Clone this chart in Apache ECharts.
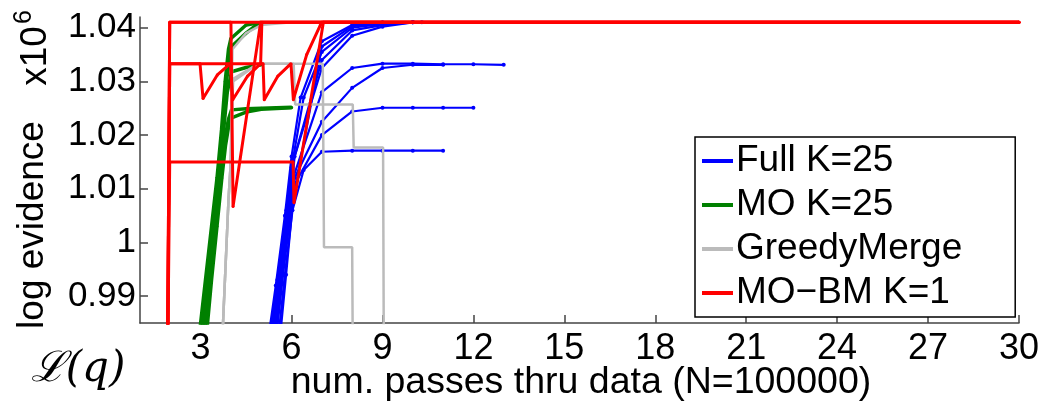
<!DOCTYPE html>
<html>
<head>
<meta charset="utf-8">
<script src="https://cdn.jsdelivr.net/npm/echarts@6/dist/echarts.min.js"></script>
<style>
html,body{margin:0;padding:0;background:#fff;}
#c{width:1042px;height:403px;}
</style>
</head>
<body>
<div id="c"></div>
<script>
// ---- data (values in units of 1e6) ----
const xTicks = [3, 6, 9, 12, 15, 18, 21, 24, 27, 30];
const yTicks = [0.99, 1, 1.01, 1.02, 1.03, 1.04];
const legendNames = ['Full K=25', 'MO K=25', 'GreedyMerge', 'MO\u2212BM K=1'];

const fullRuns = [
  [[5.18,0.98],[5.48,0.992],[5.78,1.005],[6.0,1.016],[6.3,1.027],[7.0,1.0375],[8.0,1.0405],[9.0,1.041],[10.0,1.041]],
  [[5.24,0.98],[5.53,0.993],[5.83,1.006],[6.0,1.014],[6.4,1.027],[7.0,1.0355],[8.0,1.0400],[9.0,1.0407],[10.0,1.041]],
  [[5.30,0.98],[5.6,0.993],[5.9,1.007],[6.05,1.015],[7.0,1.034],[8.0,1.0395],[9.0,1.0405],[10.0,1.041]],
  [[5.40,0.98],[5.68,0.994],[5.97,1.008],[6.1,1.016],[7.0,1.0325],[8.0,1.0385],[9.0,1.0402],[10.0,1.041]],
  [[5.27,0.98],[5.58,0.994],[5.88,1.006],[6.05,1.012],[7.0,1.028],[8.0,1.0325],[9.0,1.0333],[10.0,1.0333],[11.0,1.0332],[12.0,1.0332],[13.0,1.0331]],
  [[5.35,0.98],[5.64,0.994],[5.93,1.006],[6.1,1.012],[7.0,1.0225],[8.0,1.0288],[9.0,1.0325],[10.0,1.0331],[11.0,1.0331]],
  [[5.45,0.98],[5.72,0.994],[6.0,1.007],[6.12,1.011],[7.0,1.020],[8.0,1.0244],[9.0,1.0251],[10.0,1.0251],[11.0,1.0251],[12.0,1.0251]],
  [[5.52,0.98],[5.78,0.994],[6.03,1.006],[6.4,1.0135],[7.0,1.0169],[8.0,1.0171],[9.0,1.0171],[10.0,1.0171],[11.0,1.0171]],
  [[5.58,0.98],[5.82,0.994],[6.05,1.008],[7.0,1.0365],[8.0,1.0403],[9.0,1.0408],[10.3,1.041]]
];

const moRuns = [
  [[2.94,0.982],[3.16,0.993],[3.36,1.003],[3.54,1.012],[3.69,1.021],[3.81,1.030],[3.92,1.036],[4.0,1.038],[4.5,1.0405],[5.0,1.041]],
  [[3.00,0.982],[3.21,0.993],[3.41,1.003],[3.59,1.012],[3.73,1.021],[3.85,1.030],[3.95,1.034],[4.02,1.0365],[4.5,1.039],[4.95,1.041]],
  [[3.06,0.982],[3.26,0.993],[3.46,1.003],[3.63,1.012],[3.76,1.021],[3.88,1.028],[4.02,1.0318],[4.5,1.0326],[5.0,1.0331]],
  [[3.12,0.982],[3.31,0.993],[3.50,1.003],[3.66,1.012],[3.79,1.019],[3.92,1.023],[4.02,1.0247],[4.5,1.0249],[5.0,1.0250],[6.0,1.0252]],
  [[3.18,0.982],[3.36,0.993],[3.54,1.003],[3.70,1.012],[3.82,1.018],[3.95,1.0225],[4.02,1.0232],[4.5,1.0243],[5.0,1.0248],[6.0,1.0251]]
];

const greedyRuns = [
  [[3.70,0.98],[3.92,1.008],[3.99,1.0145],[4.05,1.036],[4.5,1.039],[5.0,1.0405],[6.0,1.041]],
  [[3.70,0.98],[3.92,1.008],[3.99,1.0145],[4.07,1.0305],[4.9,1.0333],[6.07,1.0333],[6.12,1.0257],[8.02,1.0257],[8.05,1.0177],[9.02,1.0177],[9.05,0.97]],
  [[3.70,0.98],[3.92,1.008],[3.99,1.0145],[4.07,1.0300],[4.9,1.0333],[7.03,1.0333],[7.07,0.9991],[8.0,0.9991],[8.03,0.97]]
];

const moBmRuns = [
  [[1.90,0.97],[1.98,1.041],[30.0,1.041]],
  [[1.90,0.97],[1.98,1.0333],[2.98,1.0333],[3.08,1.0268],[3.55,1.0312],[3.98,1.0333],[4.06,1.0266],[4.55,1.031],[4.98,1.0333],[5.02,1.041],[30.0,1.041]],
  [[1.90,0.97],[1.98,1.015],[6.05,1.015],[6.08,1.0074],[7.05,1.041],[30.0,1.041]],
  [[1.90,0.97],[1.98,1.041],[4.0,1.041],[4.07,1.0067],[4.98,1.041],[30.0,1.041]],
  [[1.90,0.97],[1.98,1.0333],[5.06,1.0333],[5.1,1.0266],[5.55,1.031],[5.98,1.0333],[6.06,1.0266],[6.5,1.035],[6.95,1.0405],[7.0,1.041],[30.0,1.041]]
];

// ---- chart ----
const FONT = '"Liberation Sans", Arial, Helvetica, sans-serif';
const chart = echarts.init(document.getElementById('c'), null, {renderer: 'canvas'});

function mk(name, runs, color, width, symSize, z) {
  return runs.map(r => ({
    type: 'line', name: name, data: r, z: z,
    lineStyle: {color: color, width: width},
    itemStyle: {color: color},
    symbol: 'circle', symbolSize: symSize, showSymbol: symSize > 0,
    clip: true, silent: true, animation: false
  }));
}

const series = [].concat(
  mk(legendNames[0], fullRuns, '#0000ff', 2.2, 4, 2),
  mk(legendNames[1], moRuns, '#008000', 3.5, 3, 3),
  mk(legendNames[2], greedyRuns, '#bbbbbb', 2.5, 0, 4),
  mk(legendNames[3], moBmRuns, '#ff0000', 3, 3, 5)
);

chart.setOption({
  animation: false,
  backgroundColor: '#fff',
  grid: {left: 140, right: 23, top: 17, bottom: 80},
  xAxis: {
    type: 'value', min: 1, max: 30,
    axisLine: {show: true, onZero: false, lineStyle: {color: '#444', width: 1.5}},
    axisTick: {show: true, inside: true, length: 8, customValues: xTicks, lineStyle: {color: '#444', width: 1.5}},
    axisLabel: {customValues: xTicks, color: '#000', fontSize: 36, fontFamily: FONT, margin: 8},
    splitLine: {show: false}
  },
  yAxis: {
    type: 'value', min: 0.985, max: 1.042,
    axisLine: {show: true, onZero: false, lineStyle: {color: '#444', width: 1.5}},
    axisTick: {show: true, inside: true, length: 8, customValues: yTicks, lineStyle: {color: '#444', width: 1.5}},
    axisLabel: {customValues: yTicks, color: '#000', fontSize: 35, fontFamily: FONT, margin: 4,
      formatter: v => String(Number(v.toFixed(2)))},
    splitLine: {show: false}
  },
  legend: {
    data: legendNames,
    orient: 'vertical',
    left: 695, top: 137,
    icon: 'rect', itemWidth: 31, itemHeight: 4, itemGap: 4,
    padding: [4, 53, 4, 7],
    backgroundColor: '#fff', borderColor: '#000', borderWidth: 1.5,
    textStyle: {color: '#000', fontSize: 37, fontFamily: FONT, lineHeight: 40, padding: [0,0,0,-2]},
    selectedMode: false
  },
  graphic: [
    {type: 'text', x: 33, y: 225, rotation: Math.PI/2,
     style: {text: 'log evidence', fontSize: 37, fontFamily: FONT, fill: '#000', align: 'center', verticalAlign: 'middle'}},
    {type: 'text', x: 36, y: 56, rotation: Math.PI/2,
     style: {text: 'x10', fontSize: 37, fontFamily: FONT, fill: '#000', align: 'center', verticalAlign: 'middle'}},
    {type: 'text', x: 24, y: 17, rotation: Math.PI/2,
     style: {text: '6', fontSize: 25, fontFamily: FONT, fill: '#000', align: 'center', verticalAlign: 'middle'}},
    {type: 'text', x: 78, y: 370,
     style: {text: '\u2112(q)', fontSize: 42, fontStyle: 'italic', fontFamily: '"DejaVu Serif", serif', fill: '#000', align: 'center', verticalAlign: 'middle'}},
    {type: 'text', x: 581, y: 383,
     style: {text: 'num. passes thru data (N=100000)', fontSize: 37.5, fontFamily: FONT, fill: '#000', align: 'center', verticalAlign: 'middle'}}
  ],
  series: series
});
</script>
</body>
</html>
